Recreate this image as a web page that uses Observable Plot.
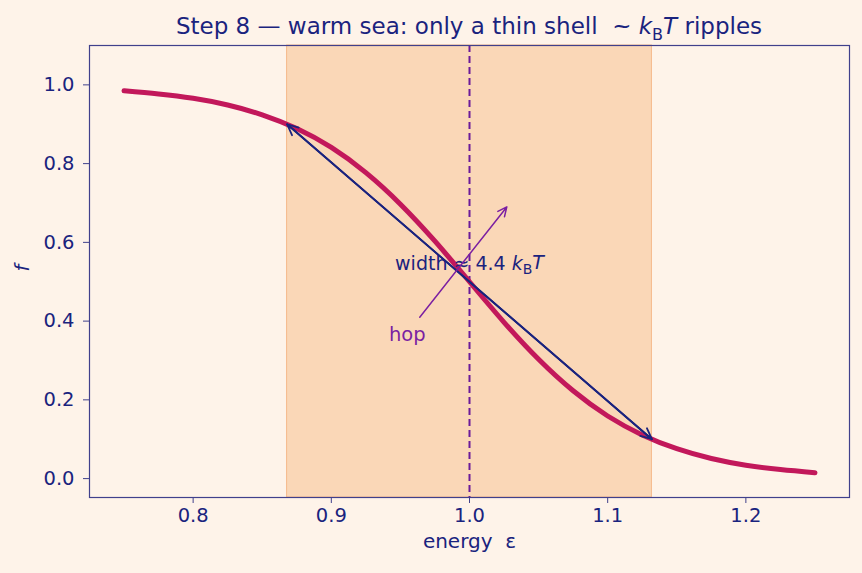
<!DOCTYPE html>
<html>
<head>
<meta charset="utf-8">
<script src="https://cdn.jsdelivr.net/npm/d3@7"></script>
<script src="https://cdn.jsdelivr.net/npm/@observablehq/plot@0.6"></script>
<style>
  html, body { margin: 0; padding: 0; background: #fef3e9; }
  #wrap { width: 862px; height: 573px; position: relative; font-family: "DejaVu Sans", sans-serif; }
  #title { position: absolute; left: 89px; width: 760px; top: 13px; text-align: center;
           font-size: 23px; line-height: 26px; color: #1a237e; white-space: nowrap; }
  #title sub { font-size: 16px; line-height: 0; }
  #chart { position: absolute; left: 0; top: 40px; }
</style>
</head>
<body>
<div id="wrap">
  <div id="title">Step 8 — warm sea: only a thin shell &nbsp;~ <i>k</i><sub>B</sub><i>T</i> ripples</div>
  <div id="chart"></div>
</div>
<script>
// occupancy f(ε) across the Fermi edge
const energy = [0.75, 0.775, 0.80, 0.825, 0.85, 0.875, 0.90, 0.925, 0.95, 0.975, 1.0,
                1.025, 1.05, 1.075, 1.10, 1.125, 1.15, 1.175, 1.20, 1.225, 1.25];
const occupancy = [0.985, 0.977, 0.966, 0.949, 0.924, 0.889, 0.841, 0.777, 0.697, 0.603, 0.500,
                   0.397, 0.303, 0.223, 0.159, 0.111, 0.076, 0.051, 0.034, 0.023, 0.015];

// chemical potential and the thermal shell (f from 0.9 down to 0.1)
const mu = 1.0;
const shellLo = 0.868, shellHi = 1.132;
const shellTop = 0.9, shellBottom = 0.1;

// annotations
const widthLabel = {x: 1.0, y: 0.545, text: "width ≈ 4.4 "};
const hopLabel = {x: 0.955, y: 0.365, text: "hop"};
const hopArrow = {x1: 0.964, y1: 0.41, x2: 1.027, y2: 0.69};

const xTicks = [0.8, 0.9, 1.0, 1.1, 1.2];
const yTicks = [0.0, 0.2, 0.4, 0.6, 0.8, 1.0];

const curve = energy.map((e, i) => ({e, f: occupancy[i]}));

const navy = "#1a237e";
const purple = "#7b1fa2";
const fs = 19.5;

const chart = Plot.plot({
  width: 862,
  height: 533,
  marginTop: 5,
  marginLeft: 89,
  marginRight: 13,
  marginBottom: 76,
  style: {background: "transparent", fontFamily: "DejaVu Sans, sans-serif"},
  x: {domain: [0.725, 1.275]},
  y: {domain: [-0.048, 1.1]},
  marks: [
    Plot.rectX([{x1: shellLo, x2: shellHi}], {x1: "x1", x2: "x2", fill: "#fad7b7", stroke: "#f6b98a", strokeWidth: 1}),
    Plot.ruleX([mu], {stroke: "#6a1b9a", strokeWidth: 2, strokeDasharray: "7,4"}),
    Plot.line(curve, {x: "e", y: "f", stroke: "#c2185b", strokeWidth: 5, curve: "natural"}),
    Plot.arrow([{x1: shellLo, y1: shellTop, x2: shellHi, y2: shellBottom}],
      {x1: "x1", y1: "y1", x2: "x2", y2: "y2", stroke: navy, strokeWidth: 1.8, headLength: 10, headAngle: 50}),
    Plot.arrow([{x1: shellHi, y1: shellBottom, x2: shellLo, y2: shellTop}],
      {x1: "x1", y1: "y1", x2: "x2", y2: "y2", stroke: navy, strokeWidth: 1.8, headLength: 10, headAngle: 50}),
    Plot.text([widthLabel], {x: "x", y: "y", text: "text", fill: navy, fontSize: 19, className: "width-label"}),
    Plot.arrow([hopArrow], {x1: "x1", y1: "y1", x2: "x2", y2: "y2", stroke: purple, strokeWidth: 1.5, headLength: 10, headAngle: 50}),
    Plot.text([hopLabel], {x: "x", y: "y", text: "text", fill: purple, fontSize: fs}),
    Plot.frame({stroke: "#40408c", strokeWidth: 1.2}),
    Plot.axisX({ticks: xTicks, tickFormat: d3.format(".1f"), tickSize: 6, tickPadding: 5, stroke: "#40408c",
      color: navy, fontSize: fs, label: null}),
    Plot.axisY({ticks: yTicks, tickFormat: d3.format(".1f"), tickSize: 6, tickPadding: 9, stroke: "#40408c",
      color: navy, fontSize: fs, label: null}),
    Plot.text(["energy\u00a0 ε"], {frameAnchor: "bottom", dy: 50, fill: navy, fontSize: 20}),
    Plot.text(["f"], {frameAnchor: "left", dx: -67, rotate: -90, fill: navy, fontSize: fs, fontStyle: "italic"})
  ]
});

// finish the width label with an italic k_B T
d3.select(chart).selectAll(".width-label text").each(function () {
  const t = d3.select(this);
  const base = t.text();
  t.text(null);
  t.append("tspan").text(base.replace(/ /g, "\u00a0"));
  t.append("tspan").attr("font-style", "italic").text("k");
  t.append("tspan").attr("font-size", "14px").attr("dy", "0.3em").text("B");
  t.append("tspan").attr("font-style", "italic").attr("dy", "-0.3em").text("T");
});

document.getElementById("chart").appendChild(chart);
</script>
</body>
</html>
